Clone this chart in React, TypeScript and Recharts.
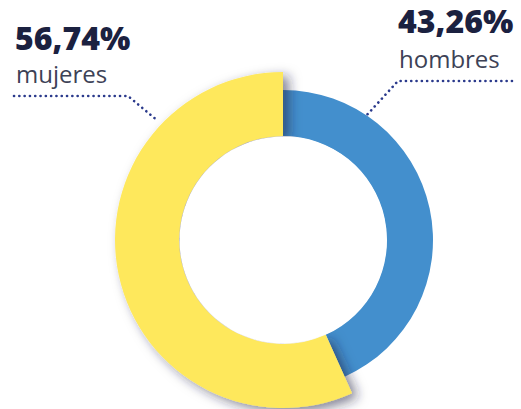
import React from "react";
import { PieChart, Pie, Cell } from "recharts";

const categories = ["hombres", "mujeres"];
const shares = [43.26, 56.74];
const colors = ["#438FCD", "#FEE85C"];

const data = categories.map((name, i) => ({ name, value: shares[i] }));
const holeData = [{ name: "hole", value: 100 }];

const fmt = (v: number) => v.toFixed(2).replace(".", ",") + "%";

const W = 521;
const H = 409;
const CX = 283;
const CY = 240;

export default function App() {
  return (
    <div style={{ position: "absolute", left: 0, top: 0, width: W, height: H, background: "#fff" }}>
      <PieChart width={W} height={H} margin={{ top: 0, right: 0, bottom: 0, left: 0 }}>
        <defs>
          <filter id="dropShadow" x="-30%" y="-30%" width="160%" height="160%">
            <feDropShadow dx="6" dy="4" stdDeviation="6" floodColor="#1a2340" floodOpacity="0.55" />
          </filter>
        </defs>
        <Pie
          data={data}
          dataKey="value"
          nameKey="name"
          cx={CX}
          cy={CY}
          innerRadius={104}
          outerRadius={150}
          startAngle={90}
          endAngle={-270}
          stroke="none"
          isAnimationActive={false}
        >
          {data.map((d, i) => (
            <Cell key={d.name} fill={i === 0 ? colors[0] : "none"} stroke="none" />
          ))}
        </Pie>
        <Pie
          data={data}
          dataKey="value"
          nameKey="name"
          cx={CX}
          cy={CY}
          innerRadius={104}
          outerRadius={168}
          startAngle={90}
          endAngle={-270}
          stroke="none"
          isAnimationActive={false}
        >
          {data.map((d, i) => (
            <Cell
              key={d.name}
              fill={i === 1 ? colors[1] : "none"}
              stroke="none"
              filter={i === 1 ? "url(#dropShadow)" : undefined}
            />
          ))}
        </Pie>
        <Pie
          data={holeData}
          dataKey="value"
          cx={CX}
          cy={CY}
          innerRadius={0}
          outerRadius={103.5}
          startAngle={90}
          endAngle={-270}
          fill="#ffffff"
          stroke="none"
          isAnimationActive={false}
        />
      </PieChart>
      <svg
        width={W}
        height={H}
        style={{ position: "absolute", left: 0, top: 0, pointerEvents: "none" }}
      >
        <g fontFamily="'Open Sans', sans-serif">
          <text x={15} y={50} fontSize={32} fontWeight={800} fill="#1B2140">
            {fmt(shares[1])}
          </text>
          <text x={16} y={83} fontSize={24} fill="#3D4256">
            {categories[1]}
          </text>
          <text x={398} y={33} fontSize={32} fontWeight={800} fill="#1B2140">
            {fmt(shares[0])}
          </text>
          <text x={399} y={68} fontSize={24} fill="#3D4256">
            {categories[0]}
          </text>
        </g>
        <polyline
          points="14,96 128,96 158,121"
          fill="none"
          stroke="#2B3A8C"
          strokeWidth={2.6}
          strokeDasharray="0.1 5.2"
          strokeLinecap="round"
        />
        <polyline
          points="512,81 398,81 365,117"
          fill="none"
          stroke="#2B3A8C"
          strokeWidth={2.6}
          strokeDasharray="0.1 5.2"
          strokeLinecap="round"
        />
      </svg>
    </div>
  );
}
